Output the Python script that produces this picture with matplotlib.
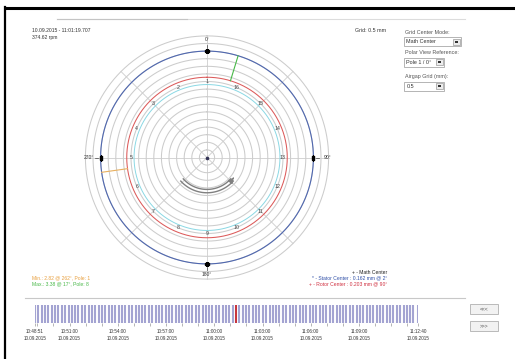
import numpy as np
import matplotlib.pyplot as plt
from matplotlib.patches import Rectangle

plt.rcParams['font.family'] = ['Liberation Sans', 'DejaVu Sans']

# measurement header
stamp = "10.09.2015 - 11:01:19.707"
speed = "374.62 rpm"

# polar airgap view (radii in grid units of 0.5 mm)
grid_step = 0.5
grid_max = 8.0
r_stator = 7.0
r_rotor = 5.28
r_stator_center = 4.8
r_pole_labels = 5.0
n_poles = 16
axis_angles = [0, 90, 180, 270]
axis_labels = ["0°", "90°", "180°", "270°"]

min_gap = 2.82
min_angle = 262
min_pole = 1
max_gap = 3.38
max_angle = 17
max_pole = 8

legend_lines = [
    ("+ - Math Center", "#222222"),
    ("* - Stator Center : 0.162 mm @ 2°", "#3050a8"),
    ("+ - Rotor Center : 0.203 mm @ 90°", "#d03040"),
]

# timeline: seconds after 10:48:51
t_end = 1429
t_current = 748.7
measure_times = [0, 12, 25, 37, 50, 62, 75, 87, 100, 112, 125, 137, 150, 162, 175,
                 187, 200, 212, 225, 237, 250, 262, 275, 287, 300, 312, 325, 337,
                 350, 362, 375, 387, 400, 412, 425, 437, 450, 462, 475, 487, 500,
                 512, 525, 537, 550, 562, 575, 587, 600, 612, 625, 637, 650, 662,
                 675, 687, 700, 712, 725, 737, 749, 762, 775, 787, 800, 812, 825,
                 837, 850, 862, 875, 887, 900, 912, 925, 937, 950, 962, 975, 987,
                 1000, 1012, 1025, 1037, 1050, 1062, 1075, 1087, 1100, 1112, 1125,
                 1137, 1150, 1162, 1175, 1187, 1200, 1212, 1225, 1237, 1250, 1262,
                 1275, 1287, 1300, 1312, 1325, 1337, 1350, 1362, 1375, 1387, 1400,
                 1412, 1429]
tick_times = [0, 129, 309, 489, 669, 849, 1029, 1209, 1429]
tick_labels = ["10:48:51", "10:51:00", "10:54:00", "10:57:00", "11:00:00",
               "11:03:00", "11:06:00", "11:09:00", "11:12:40"]
minor_times = [9 + 60 * k for k in range(24)]
tick_date = "10.09.2015"

W, H = 515, 359
fig = plt.figure(figsize=(W / 100, H / 100), dpi=100)

# pixel canvas for the window chrome
bg = fig.add_axes([0, 0, 1, 1])
bg.set_xlim(0, W)
bg.set_ylim(H, 0)
bg.axis('off')

bg.plot([4, W], [7.5, 7.5], color='black', lw=2.2, solid_capstyle='butt')
bg.plot([4.5, 4.5], [7, H], color='black', lw=1.6)
bg.plot([57, 465], [19, 19], color='#dcdcdc', lw=0.8)
bg.plot([57, 187], [19, 19], color='#c4c4c4', lw=0.8)
bg.plot([25, 465], [298, 298], color='#c8c8c8', lw=0.8)

bg.text(32, 31, stamp, fontsize=3.6, color='#333333', va='center')
bg.text(32, 37.5, speed, fontsize=3.6, color='#333333', va='center')
bg.text(386, 31, "Grid: 0.5 mm", fontsize=3.8, color='#333333', va='center', ha='right')

# option panel
panel = [("Grid Center Mode:", "Math Center", 32, 57),
         ("Polar View Reference:", "Pole 1 / 0°", 52.5, 40),
         ("Airgap Grid (mm):", "0.5", 76.5, 40)]
for title, value, y, bw in panel:
    bg.text(405, y, title, fontsize=3.9, color='#555555', va='center')
    bg.add_patch(Rectangle((404, y + 5), bw, 9, fc='white', ec='#a8a8a8', lw=0.6))
    bg.add_patch(Rectangle((404 + bw - 8, y + 6.5), 6.5, 6, fc='#ececec', ec='#9a9a9a', lw=0.5))
    bg.add_patch(Rectangle((404 + bw - 6, y + 8.5), 2.5, 2, fc='#333333', ec='none'))
    bg.text(406.5, y + 9.5, value, fontsize=3.9, color='#333333', va='center')

bg.text(32, 277.5, f"Min.: {min_gap:.2f} @ {min_angle}°, Pole: {min_pole}",
        fontsize=3.6, color='#e8a040', va='center')
bg.text(32, 283.5, f"Max.: {max_gap:.2f} @ {max_angle}°, Pole: {max_pole}",
        fontsize=3.6, color='#48b848', va='center')
for k, (txt, col) in enumerate(legend_lines):
    bg.text(387, 273 + 5.3 * k, txt, fontsize=3.6, color=col, va='center', ha='right')

for y, s in [(304, "<<<"), (321, ">>>")]:
    bg.add_patch(Rectangle((470, y), 28, 10, fc='#f2f2f2', ec='#b0b0b0', lw=0.6))
    bg.text(484, y + 5, s, fontsize=3.6, color='#555555', ha='center', va='center')

# polar airgap plot
cx, cy, R = 207, 157.5, 123
rmax = R / 15.2
pax = fig.add_axes([(cx - R) / W, (H - cy - R) / H, 2 * R / W, 2 * R / H], projection='polar')
pax.set_facecolor('none')
pax.set_theta_zero_location('N')
pax.set_theta_direction(-1)
pax.set_ylim(0, rmax)
pax.axis('off')

theta = np.linspace(0, 2 * np.pi, 721)
for r in np.arange(grid_step, grid_max + 1e-9, grid_step):
    pax.plot(theta, np.full_like(theta, r), color='#cccccc', lw=0.75, zorder=1)
for a in range(0, 360, 45):
    pax.plot([np.deg2rad(a)] * 2, [0, grid_max], color='#cdcdcd', lw=0.6, zorder=1)

pax.plot(theta, np.full_like(theta, r_stator_center), color='#8ad8e4', lw=0.7, zorder=2)
pax.plot(theta, np.full_like(theta, r_rotor), color='#dc5a5a', lw=0.75, zorder=3)
pax.plot(theta, np.full_like(theta, r_stator), color='#5068b0', lw=0.8, zorder=3)

pax.plot([np.deg2rad(max_angle)] * 2, [r_rotor, r_stator], color='#48b848', lw=0.8, zorder=4)
pax.plot([np.deg2rad(min_angle)] * 2, [r_rotor, r_stator], color='#e8b060', lw=0.8, zorder=4)

for p in range(n_poles):
    a = np.deg2rad(-p * 360 / n_poles)
    pax.text(a, r_pole_labels, str(p + 1), fontsize=3.8, color='#444444',
             ha='center', va='center', zorder=5)

flat = [(-1.3, -0.7), (1.3, -0.7), (1.3, 0.7), (-1.3, 0.7), (-1.3, -0.7)]
tall = [(y, x) for x, y in flat]
label_pos = {0: (7.75, 'center', 'center'), 90: (7.65, 'left', 'center'),
             180: (7.7, 'center', 'center'), 270: (7.45, 'right', 'center')}
for a, lab in zip(axis_angles, axis_labels):
    t = np.deg2rad(a)
    pax.plot(t, r_stator, marker=flat if a in (0, 180) else tall, ms=3.0,
             color='black', zorder=6)
    pax.plot([t, t], [7.2, 7.38], color='#444444', lw=0.5, zorder=6)
    r, ha, va = label_pos[a]
    pax.text(t, r, lab, fontsize=3.6, color='#333333', ha=ha, va=va,
             zorder=6, clip_on=False)

# rotation direction arrow
arc = np.deg2rad(np.linspace(228, 132, 80))
for r in (2.1, 2.32):
    pax.plot(arc, np.full_like(arc, r), color='#808080', lw=1.0, zorder=4)
pax.annotate('', xy=(np.deg2rad(122), 2.21), xytext=(np.deg2rad(133), 2.21),
             arrowprops=dict(arrowstyle='-|>', color='#808080', lw=0.9,
                             mutation_scale=8), zorder=4)
pax.plot(0, 0, marker='o', ms=1.6, color='#333355', zorder=6)

# timeline of recorded measurements
tl = fig.add_axes([35 / W, (H - 323) / H, 383 / W, 18 / H])
tl.set_xlim(0, t_end)
tl.set_ylim(0, 1)
tl.vlines(measure_times, 0, 1, color='#a4a4d2', lw=1.5)
tl.vlines([t_current], 0, 1, color='#d02020', lw=1.2)
for s in tl.spines.values():
    s.set_visible(False)
tl.set_yticks([])
tl.set_xticks(tick_times)
tl.set_xticklabels([f"{lab}\n{tick_date}" for lab in tick_labels],
                   fontsize=3.3, color='#333333', linespacing=1.4)
tl.set_xticks(minor_times, minor=True)
tl.tick_params(axis='x', which='both', direction='out', length=1.8, width=0.5,
               color='#999999', pad=2.5)

fig.savefig('out.png', dpi=100)
